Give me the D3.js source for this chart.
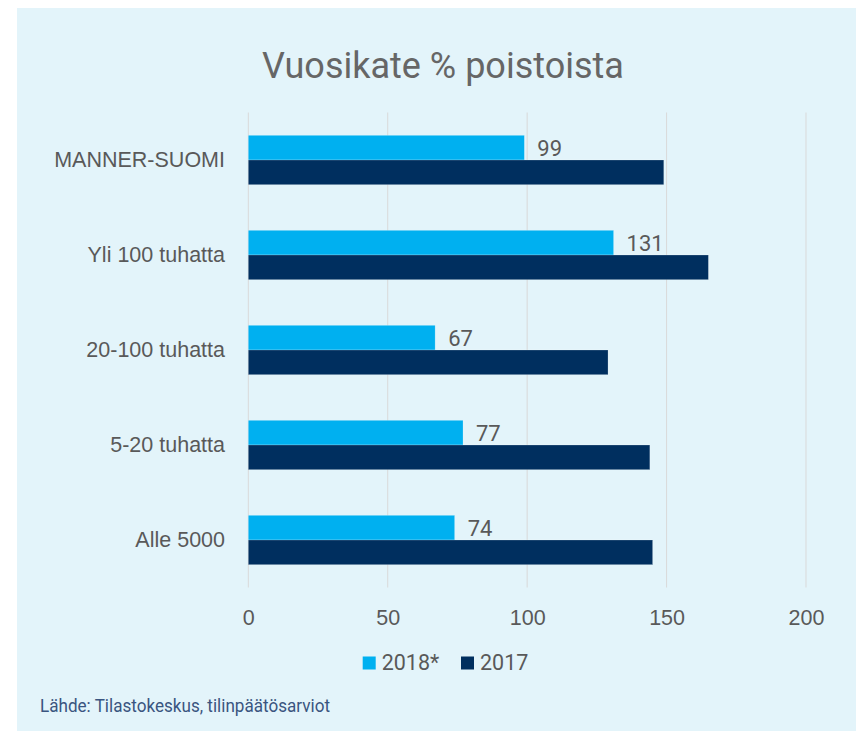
<!DOCTYPE html>
<html>
<head>
<meta charset="utf-8">
<script src="https://cdn.jsdelivr.net/npm/d3@7"></script>
<style>
  body { margin: 0; background: #fff; }
  svg { display: block; font-family: Roboto, "Noto Sans", sans-serif; }
</style>
</head>
<body>
<div class="chart-container"></div>
<script>
const categories = ["MANNER-SUOMI", "Yli 100 tuhatta", "20-100 tuhatta", "5-20 tuhatta", "Alle 5000"];
const seriesNames = ["2018*", "2017"];
const values2018 = [99, 131, 67, 77, 74];
const values2017 = [149, 165, 129, 144, 145];
const xTicks = [0, 50, 100, 150, 200];

const colors = { "2018*": "#00B0F0", "2017": "#002F5F" };

const width = 856;
const height = 731;
const margin = { top: 112.5, right: 50, bottom: 143.5, left: 248.3 };

const svg = d3.select(".chart-container").append("svg")
    .attr("width", width)
    .attr("height", height);

// panel background
svg.append("rect")
    .attr("x", 17).attr("y", 8)
    .attr("width", width - 17).attr("height", height - 8)
    .attr("fill", "#E3F4FA");

const x = d3.scaleLinear()
    .domain([0, 200])
    .range([margin.left, 806]);

const y = d3.scaleBand()
    .domain(categories)
    .range([margin.top, height - margin.bottom])
    .paddingInner(0.48)
    .paddingOuter(0.24);

const ySub = d3.scaleBand()
    .domain(seriesNames)
    .range([0, y.bandwidth()]);

// gridlines
svg.append("g")
    .selectAll("line")
    .data(xTicks)
    .enter()
    .append("line")
    .attr("x1", d => x(d)).attr("x2", d => x(d))
    .attr("y1", margin.top).attr("y2", height - margin.bottom)
    .attr("stroke", "#D9D9D9")
    .attr("stroke-width", 1);

// x axis labels
const xAxis = d3.axisBottom(x).tickValues(xTicks).tickSize(0).tickPadding(0);
const gx = svg.append("g")
    .attr("transform", `translate(0, ${height - margin.bottom + 22})`)
    .call(xAxis);
gx.select(".domain").remove();
gx.selectAll("text")
    .attr("dy", "0.71em")
    .attr("fill", "#595959")
    .style("font-size", "21.5px");

// category labels
const yAxis = d3.axisLeft(y).tickSize(0).tickPadding(0);
const gy = svg.append("g")
    .attr("transform", `translate(225, 0)`)
    .call(yAxis);
gy.select(".domain").remove();
gy.selectAll("text")
    .attr("fill", "#595959")
    .style("font-size", "21.5px");

// bars
const rows = categories.map((c, i) => ({ cat: c, "2018*": values2018[i], "2017": values2017[i] }));

const groups = svg.append("g")
    .selectAll("g")
    .data(rows)
    .enter()
    .append("g")
    .attr("transform", d => `translate(0, ${y(d.cat)})`);

groups.selectAll("rect")
    .data(d => seriesNames.map(s => ({ s: s, v: d[s] })))
    .enter()
    .append("rect")
    .attr("x", x(0))
    .attr("y", d => ySub(d.s))
    .attr("width", d => x(d.v) - x(0))
    .attr("height", ySub.bandwidth())
    .attr("fill", d => colors[d.s])
    .attr("stroke", "rgba(255,255,255,0.35)")
    .attr("stroke-width", 0.6);

// value labels (2018 only)
groups.append("text")
    .attr("x", d => x(d["2018*"]) + 13)
    .attr("y", ySub("2018*") + ySub.bandwidth() / 2)
    .attr("dy", "0.36em")
    .attr("fill", "#595959")
    .style("font-size", "22px")
    .text(d => d["2018*"]);

// title
svg.append("text")
    .attr("x", 443)
    .attr("y", 78.3)
    .attr("text-anchor", "middle")
    .attr("fill", "#666666")
    .style("font-size", "36px")
    .text("Vuosikate % poistoista");

// legend
const legend = svg.append("g").attr("transform", "translate(362.7, 656.5)");
const legendX = [0, 98.3];
seriesNames.forEach((s, i) => {
    legend.append("rect")
        .attr("x", legendX[i]).attr("y", 0)
        .attr("width", 13).attr("height", 13)
        .attr("fill", colors[s]);
    legend.append("text")
        .attr("x", legendX[i] + 19)
        .attr("y", 13)
        .attr("fill", "#595959")
        .style("font-size", "21.5px")
        .text(s);
});

// source
svg.append("text")
    .attr("x", 40)
    .attr("y", 711.7)
    .attr("fill", "#3A5580")
    .attr("textLength", 290)
    .attr("lengthAdjust", "spacingAndGlyphs")
    .style("font-size", "18px")
    .text("Lähde: Tilastokeskus, tilinpäätösarviot");
</script>
</body>
</html>
